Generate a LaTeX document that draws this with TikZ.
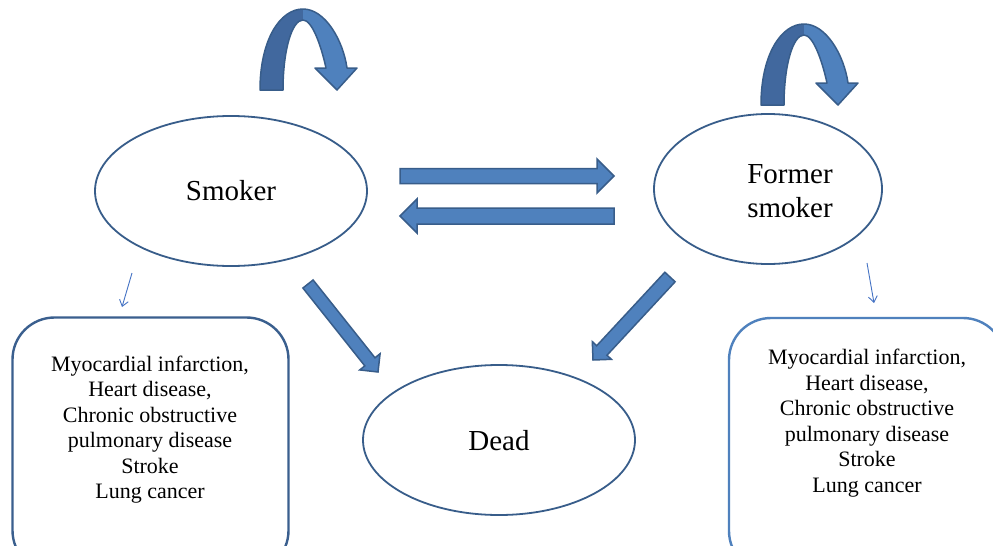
\documentclass[tikz,border=0pt]{standalone}
\usepackage{fontspec}
\setmainfont{Liberation Serif}
\usetikzlibrary{shapes.geometric,calc,arrows.meta}
\definecolor{afill}{HTML}{4F81BD}
\definecolor{aline}{HTML}{385D8A}
\definecolor{adark}{HTML}{41689E}
\definecolor{eline}{HTML}{385D8A}
\definecolor{lboxc}{HTML}{3A5F8E}
\definecolor{rboxc}{HTML}{4F81BD}
\definecolor{thinc}{HTML}{4472C4}
\tikzset{
  state/.style={ellipse, draw=eline, line width=1.8pt, fill=white, inner sep=0pt,
    font=\fontsize{28.5}{34}\selectfont, align=center},
  statetext/.style={inner sep=0pt, font=\fontsize{29}{34}\selectfont, align=center},
  listbox/.style={draw, rounded corners=42pt, line width=2.4pt, minimum width=276pt,
    minimum height=255pt, inner sep=0pt},
  listtext/.style={align=center, font=\fontsize{22}{25.5}\selectfont, inner sep=0pt},
  thinarrow/.style={draw=thinc, line width=0.9pt, -{Straight Barb[length=6pt,width=9pt]}},
  blockfill/.style={fill=afill, draw=aline, line width=1.5pt, line join=miter},
  selfloop/.pic={
    \fill[adark] (0,0) .. controls (0,-50) and (20,-81) .. (43,-81) -- (43,-70)
      .. controls (32,-70) and (23,-40) .. (23,0) -- cycle;
    \fill[afill] (43,-81) .. controls (65,-81) and (83,-50) .. (87,-22) -- (97,-22)
      -- (77,0) -- (55,-22) -- (66,-22) .. controls (61,-45) and (52,-70) .. (43,-70) -- cycle;
    \draw[aline, line width=1.5pt, line join=round] (0,0) .. controls (0,-50) and (20,-81) .. (43,-81)
      .. controls (65,-81) and (83,-50) .. (87,-22) -- (97,-22) -- (77,0) -- (55,-22) -- (66,-22)
      .. controls (61,-45) and (52,-70) .. (43,-70) .. controls (32,-70) and (23,-40) .. (23,0) -- cycle;
  }
}
% start, end, shaft half width, head half width, head length
\newcommand{\blockarrow}[5]{%
  \coordinate (ba-h) at ($(#2)!#5!(#1)$);
  \path[blockfill] ($(#1)!#3!90:(#2)$) -- ($(ba-h)!#3!90:(#2)$) -- ($(ba-h)!#4!90:(#2)$)
    -- (#2) -- ($(ba-h)!#4!-90:(#2)$) -- ($(ba-h)!#3!-90:(#2)$) -- ($(#1)!#3!-90:(#2)$) -- cycle;
}
\begin{document}
\begin{tikzpicture}[x=1pt,y=-1pt]
\useasboundingbox (0,0) rectangle (993,546);
\fill[white] (0,0) rectangle (993,546);
\clip (0,0) rectangle (993,546);

% states
\node[state, minimum width=272pt, minimum height=150pt] (smoker) at (231,191) {};
\node[statetext] (smokertext) at (231,191) {Smoker};
\node[state, minimum width=228pt, minimum height=150pt] (former) at (768,189) {};
\node[statetext] (formertext) at (790,191) {Former\\smoker};
\node[state, minimum width=272pt, minimum height=150pt] (dead) at (499,440) {};
\node[statetext] (deadtext) at (499,441) {Dead};

% disease boxes
\node[listbox, draw=lboxc] (lbox) at (150.5,445) {};
\node[listbox, draw=rboxc] (rbox) at (867,445.5) {};
\node[listtext] (ltext) at (150,429.5) {Myocardial infarction,\\Heart disease,\\Chronic obstructive\\pulmonary disease\\Stroke\\Lung cancer};
\node[listtext] (rtext) at (867,423) {Myocardial infarction,\\Heart disease,\\Chronic obstructive\\pulmonary disease\\Stroke\\Lung cancer};

% thin arrows to boxes
\coordinate (ls) at (132,273); \coordinate (le) at (122,307);
\coordinate (rs) at (867,263); \coordinate (re) at (874,303);
\draw[thinarrow] (ls) -- (le);
\draw[thinarrow] (rs) -- (re);

% block arrows
\coordinate (sf-a) at (400,176); \coordinate (sf-b) at (614,176);
\coordinate (fs-a) at (614,216); \coordinate (fs-b) at (400,216);
\coordinate (sd-a) at (308,284); \coordinate (sd-b) at (378,372);
\coordinate (fd-a) at (670,277); \coordinate (fd-b) at (593,360);
\blockarrow{sf-a}{sf-b}{7.5pt}{17pt}{17pt}
\blockarrow{fs-a}{fs-b}{8pt}{17pt}{17pt}
\blockarrow{sd-a}{sd-b}{6.5pt}{13pt}{13pt}
\blockarrow{fd-a}{fd-b}{7pt}{13pt}{13pt}

% self loops
\pic at (260,90) {selfloop};
\pic at (761,105) {selfloop};
\end{tikzpicture}
\end{document}
